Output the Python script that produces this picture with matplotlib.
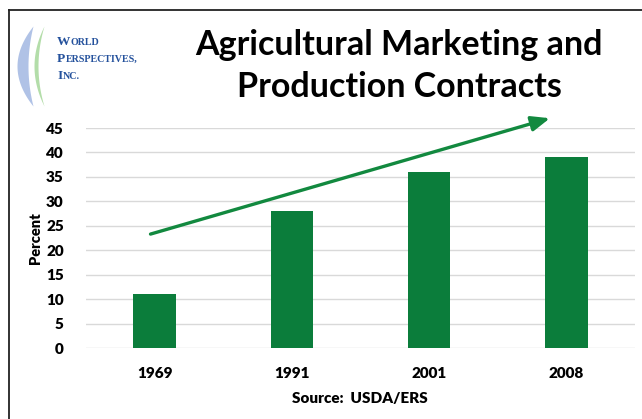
import matplotlib.pyplot as plt
import numpy as np

years = ["1969", "1991", "2001", "2008"]
percent = [11, 28, 36, 39]
yticks = [0, 5, 10, 15, 20, 25, 30, 35, 40, 45]
trend_start = (-0.03, 23.3)
trend_end = (2.88, 47.0)

title = "Agricultural Marketing and\nProduction Contracts"
source = "Source:  USDA/ERS"
logo_lines = ["World", "Perspectives,", "Inc."]

bar_color = "#0b7d3b"
arrow_color = "#12893f"
font = ["Lato", "DejaVu Sans"]

plt.rcParams["font.family"] = font

fig = plt.figure(figsize=(6.42, 4.19), dpi=100)

# overlay in pixel coords for the frame and logo
bg = fig.add_axes([0, 0, 1, 1])
bg.set_xlim(0, 642)
bg.set_ylim(419, 0)
bg.axis("off")
bg.plot([9, 642], [10, 10], color="#222222", lw=1.3)
bg.plot([9, 9], [10, 419], color="#222222", lw=1.3)

t = np.linspace(-1, 1, 80)
yy = 66 + 40 * t
bg.fill_betweenx(yy, 33 - 16 * (1 - t**2), 33 - 5 * (1 - t**2),
                 color="#9db3e0", alpha=0.8, lw=0)
bg.fill_betweenx(yy, 44 - 10 * (1 - t**2), 44 - 6 * (1 - t**2),
                 color="#a6d79a", alpha=0.85, lw=0)


def small_caps(x, y, word, big=9.6, small=7.2):
    fig.canvas.draw()
    r = fig.canvas.get_renderer()
    kw = dict(color="#24519c", family=["Liberation Serif"], fontweight="bold",
              va="baseline", ha="left")
    first = bg.text(x, y, word[0], fontsize=big, **kw)
    w = first.get_window_extent(r).width
    bg.text(x + w + 0.3, y, word[1:].upper(), fontsize=small, **kw)


for i, word in enumerate(logo_lines):
    small_caps(57, 45 + 17 * i, word)

bg.text(399, 66, title, ha="center", va="center", fontsize=24.5,
        fontweight="bold", linespacing=1.35, color="black")

ax = fig.add_axes([86 / 642, 1 - 348 / 419, 549 / 642, 220 / 419])
x = np.arange(len(years))
ax.bar(x, percent, width=0.31, color=bar_color, zorder=3)
ax.set_xlim(-0.5, len(years) - 0.5)
ax.set_ylim(0, 45)
ax.set_yticks(yticks)
ax.set_xticks(x)
ax.set_xticklabels(years)
ax.yaxis.grid(True, color="#d9d9d9", lw=1)
ax.set_axisbelow(True)
for s in ax.spines.values():
    s.set_visible(False)
ax.tick_params(length=0)
ax.tick_params(axis="y", pad=16)
ax.tick_params(axis="x", pad=14)
for lab in ax.get_xticklabels() + ax.get_yticklabels():
    lab.set_fontweight("heavy")
    lab.set_fontsize(11)
ax.set_ylabel("Percent", fontsize=10.5, fontweight="heavy", labelpad=3)

ax.annotate("", xy=trend_end, xytext=trend_start, annotation_clip=False,
            arrowprops=dict(arrowstyle="-|>,head_length=1.1,head_width=0.45",
                            color=arrow_color, lw=2.4, shrinkA=0, shrinkB=0))

fig.text(360 / 642, 1 - 398 / 419, source, ha="center", va="center",
         fontsize=11, fontweight="heavy")

fig.savefig("out.png", dpi=100)
